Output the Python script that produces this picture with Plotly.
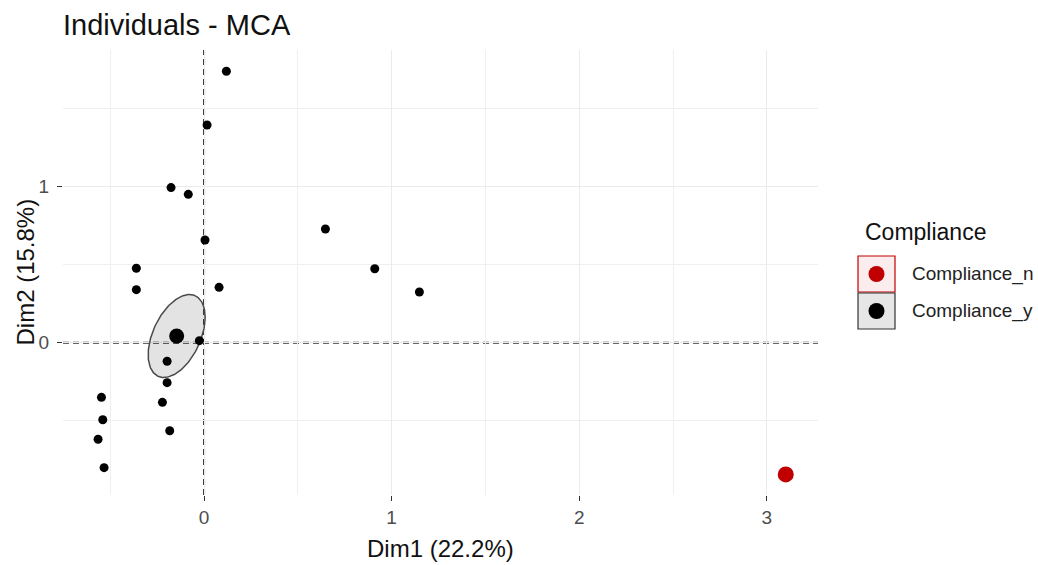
import numpy as np
import plotly.graph_objects as go

# ---- data -------------------------------------------------------------
groups = ["Compliance_n", "Compliance_y"]
group_colors = ["#C00000", "#000000"]

# individual coordinates, group Compliance_y
ind_y_dim1 = [0.119, 0.016, -0.176, -0.084, 0.005, -0.361, -0.361, 0.080,
              -0.025, -0.197, -0.197, -0.222, -0.183, -0.547, -0.540, -0.565,
              -0.533, 0.647, 0.910, 1.148]
ind_y_dim2 = [1.740, 1.395, 0.994, 0.951, 0.658, 0.477, 0.340, 0.355,
              0.013, -0.119, -0.256, -0.382, -0.564, -0.350, -0.494, -0.619,
              -0.801, 0.729, 0.474, 0.325]

# individual coordinates, group Compliance_n
ind_n_dim1 = [3.101]
ind_n_dim2 = [-0.844]

# group barycentres (n, y)
mean_dim1 = [3.101, -0.146]
mean_dim2 = [-0.844, 0.043]

# concentration ellipse of Compliance_y: sd on each axis and correlation
ell_sd1 = 0.152
ell_sd2 = 0.266
ell_rho = 0.45

x_ticks = [0, 1, 2, 3]
y_ticks = [0, 1]
x_title = "Dim1 (22.2%)"
y_title = "Dim2 (15.8%)"
chart_title = "Individuals - MCA"
legend_title = "Compliance"

# ---- layout geometry (pixels) ----------------------------------------
W, H = 1038, 565
L, R, T, B = 63, 818, 50, 495
FONT = "Liberation Sans, Arial, sans-serif"


def px_x(p):
    return (p - L) / (R - L)


def px_y(p):
    return (B - p) / (B - T)


fig = go.Figure()

# ellipse outline for Compliance_y
t = np.linspace(0, 2 * np.pi, 240)
ex = mean_dim1[1] + ell_sd1 * np.cos(t)
ey = mean_dim2[1] + ell_sd2 * (ell_rho * np.cos(t) + np.sqrt(1 - ell_rho ** 2) * np.sin(t))
fig.add_trace(go.Scatter(
    x=ex, y=ey, mode="lines", fill="toself",
    fillcolor="rgba(0,0,0,0.11)",
    line=dict(color="#4A4A4A", width=1.5),
    hoverinfo="skip", showlegend=False,
))

# individuals
fig.add_trace(go.Scatter(
    x=ind_y_dim1, y=ind_y_dim2, mode="markers",
    marker=dict(color=group_colors[1], size=9, opacity=1),
    name=groups[1], showlegend=False,
))
fig.add_trace(go.Scatter(
    x=ind_n_dim1, y=ind_n_dim2, mode="markers",
    marker=dict(color=group_colors[0], size=9, opacity=1),
    name=groups[0], showlegend=False,
))

# group barycentres
fig.add_trace(go.Scatter(
    x=mean_dim1, y=mean_dim2, mode="markers",
    marker=dict(color=group_colors, size=[16, 15], opacity=1,
                line=dict(width=0)),
    showlegend=False, hoverinfo="skip",
))

# dashed reference lines through the origin
dash_line = dict(color="#333333", width=2, dash="6px,4px")
fig.add_shape(type="line", xref="x", yref="paper", x0=0, x1=0, y0=0, y1=1,
              line=dash_line, layer="below")
fig.add_shape(type="line", xref="paper", yref="y", x0=0, x1=1, y0=0, y1=0,
              line=dash_line, layer="below")

# manual legend with boxed keys
fig.add_annotation(x=px_x(863), y=px_y(232), xref="paper", yref="paper",
                   text=legend_title, showarrow=False, xanchor="left",
                   yanchor="middle", font=dict(family=FONT, size=23, color="#111111"))
key_rows = [274, 311]
box_fills = ["rgba(192,0,0,0.07)", "#E6E6E6"]
box_lines = [group_colors[0], "#333333"]
for i, g in enumerate(groups):
    cy = key_rows[i]
    fig.add_shape(type="rect", xref="paper", yref="paper",
                  x0=px_x(858), x1=px_x(895), y0=px_y(cy - 18), y1=px_y(cy + 18),
                  fillcolor=box_fills[i], line=dict(color=box_lines[i], width=1.2))
    fig.add_shape(type="circle", xref="paper", yref="paper",
                  xsizemode="pixel", ysizemode="pixel",
                  xanchor=px_x(876.5), yanchor=px_y(cy),
                  x0=-8, x1=8, y0=-8, y1=8,
                  fillcolor=group_colors[i], line=dict(width=0))
    fig.add_annotation(x=px_x(910), y=px_y(cy), xref="paper", yref="paper",
                       text=g, showarrow=False, xanchor="left", yanchor="middle",
                       font=dict(family=FONT, size=19, color="#222222"))

# axis titles
fig.add_annotation(x=0.5, y=px_y(548), xref="paper", yref="paper",
                   text=x_title, showarrow=False, xanchor="center", yanchor="middle",
                   font=dict(family=FONT, size=24, color="#111111"))
fig.add_annotation(x=px_x(25), y=0.5, xref="paper", yref="paper",
                   text=y_title, showarrow=False, textangle=-90,
                   xanchor="center", yanchor="middle",
                   font=dict(family=FONT, size=24, color="#111111"))

axis_common = dict(
    showgrid=True, gridcolor="#EBEBEB", gridwidth=1.2,
    zeroline=False, showline=False,
    ticks="outside", ticklen=5, tickwidth=1, tickcolor="#333333",
    tickfont=dict(family=FONT, size=19, color="#4D4D4D"),
    minor=dict(dtick=0.5, tick0=0, showgrid=True, gridcolor="#EFEFEF",
               gridwidth=1, ticks=""),
)

fig.update_layout(
    width=W, height=H,
    margin=dict(l=L, r=W - R, t=T, b=H - B, autoexpand=False),
    paper_bgcolor="white", plot_bgcolor="white",
    showlegend=False,
    title=dict(text=chart_title, x=L / W, xanchor="left", xref="container",
               y=1 - 25 / H, yanchor="middle", yref="container",
               font=dict(family=FONT, size=29, color="#111111")),
    xaxis=dict(range=[-0.752, 3.273], tickvals=x_ticks, **axis_common),
    yaxis=dict(range=[-0.976, 1.876], tickvals=y_ticks, ticklabelstandoff=4,
               **axis_common),
)

fig.write_html("out.html")
